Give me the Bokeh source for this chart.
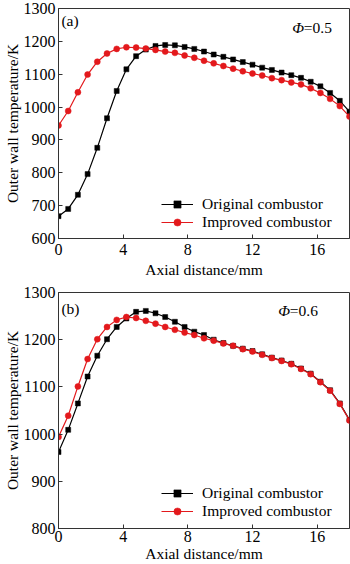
from bokeh.plotting import figure
from bokeh.layouts import column
from bokeh.models import Range1d, FixedTicker, Legend, LegendItem, Label
from bokeh.embed import file_html
from bokeh.resources import INLINE

# Axial distance (mm)
x_mm = [round(0.6 * i, 1) for i in range(31)]

# Panel (a), Phi = 0.5
a_original = [668, 690, 733, 796, 876, 966, 1049, 1115, 1155, 1175,
              1186, 1189, 1188, 1183, 1177, 1169, 1160, 1153, 1145, 1137,
              1129, 1120, 1113, 1105, 1097, 1089, 1077, 1063, 1043, 1019, 986]
a_improved = [944, 988, 1045, 1099, 1138, 1163, 1177, 1182, 1181, 1178,
              1174, 1169, 1165, 1157, 1150, 1141, 1133, 1125, 1117, 1109,
              1102, 1096, 1088, 1082, 1075, 1069, 1057, 1043, 1025, 1003, 971]

# Panel (b), Phi = 0.6
b_original = [962, 1009, 1065, 1122, 1166, 1201, 1227, 1245, 1259, 1261,
              1256, 1248, 1238, 1227, 1217, 1210, 1200, 1193, 1187, 1181,
              1176, 1169, 1162, 1156, 1149, 1139, 1128, 1111, 1093, 1065, 1030]
b_improved = [994, 1039, 1101, 1159, 1201, 1227, 1242, 1248, 1246, 1240,
              1234, 1227, 1221, 1215, 1210, 1203, 1198, 1192, 1187, 1180,
              1175, 1168, 1161, 1155, 1148, 1138, 1127, 1110, 1092, 1064, 1029]

x_ticks = [0, 4, 8, 12, 16]
a_yticks = [600, 700, 800, 900, 1000, 1100, 1200, 1300]
b_yticks = [800, 900, 1000, 1100, 1200, 1300]

series_names = ["Original combustor", "Improved combustor"]
x_title = "Axial distance/mm"
y_title = "Outer wall temperature/K"

FONT = "Liberation Serif"
BLACK = "#000000"
RED = "#e3191c"


def panel(height, yr, yticks, orig, impr, tag, phi_txt, border_top, border_bottom,
          legend_y, tag_xy, phi_xy, lab_standoff, title_standoff):
    p = figure(width=350, height=height, x_range=Range1d(0, 18), y_range=Range1d(*yr),
               output_backend="svg", toolbar_location=None,
               min_border_left=57, min_border_right=1,
               min_border_top=border_top, min_border_bottom=border_bottom)
    p.xgrid.visible = False
    p.ygrid.visible = False
    p.outline_line_color = "#333333"
    p.outline_line_width = 1
    p.background_fill_color = "white"
    p.border_fill_color = "white"

    for ax in (p.xaxis[0], p.yaxis[0]):
        ax.major_tick_in = 4
        ax.major_tick_out = 0
        ax.minor_tick_line_color = None
        ax.axis_line_color = "#333333"
        ax.major_tick_line_color = "#333333"
        ax.major_label_text_font = FONT
        ax.major_label_text_font_size = "16px"
        ax.major_label_text_color = BLACK
        ax.axis_label_text_font = FONT
        ax.axis_label_text_font_size = "15.5px"
        ax.axis_label_text_font_style = "normal"
        ax.axis_label_text_color = BLACK
    p.xaxis.ticker = FixedTicker(ticks=x_ticks)
    p.yaxis.ticker = FixedTicker(ticks=yticks)
    p.xaxis.axis_label = x_title
    p.yaxis.axis_label = y_title
    p.xaxis.major_label_standoff = lab_standoff
    p.xaxis.axis_label_standoff = title_standoff
    p.yaxis.major_label_standoff = 3
    p.yaxis.axis_label_standoff = 0

    l1 = p.line(x_mm, orig, line_color=BLACK, line_width=1.2)
    s1 = p.scatter(x_mm, orig, marker="square", size=5, fill_color=BLACK, line_color=BLACK,
                   line_width=0.5)
    l2 = p.line(x_mm, impr, line_color=RED, line_width=1.2)
    s2 = p.scatter(x_mm, impr, marker="circle", size=6, fill_color=RED, line_color=RED,
                   line_width=0.5)

    legend = Legend(items=[LegendItem(label=series_names[0], renderers=[l1, s1]),
                           LegendItem(label=series_names[1], renderers=[l2, s2])],
                    location=(103, legend_y), border_line_color=None,
                    background_fill_alpha=0, padding=0, margin=0, spacing=0,
                    label_height=18, glyph_height=18, glyph_width=32, label_standoff=9,
                    label_text_font=FONT, label_text_font_size="15.5px",
                    label_text_color=BLACK)
    p.add_layout(legend)

    p.add_layout(Label(x=tag_xy[0], y=tag_xy[1], text=tag, text_font=FONT,
                       text_font_size="15.5px", text_baseline="middle", text_color=BLACK))
    p.add_layout(Label(x=phi_xy[0], y=phi_xy[1], text="Φ", text_font=FONT,
                       text_font_size="15.5px", text_font_style="italic",
                       text_baseline="middle", text_color=BLACK))
    p.add_layout(Label(x=phi_xy[0], y=phi_xy[1], x_offset=11.5, text=phi_txt, text_font=FONT,
                       text_font_size="15.5px", text_baseline="middle", text_color=BLACK))
    return p


p1 = panel(282, (600, 1300), a_yticks, a_original, a_improved, "(a)", "=0.5",
           8, 44, 7, (0.18, 1264), (14.46, 1243), 5, 3)
p2 = panel(282, (800, 1300), b_yticks, b_original, b_improved, "(b)", "=0.6",
           10, 36, 8, (0.18, 1267), (13.6, 1261), 2, 0)

p2.add_layout(Label(x=11.1, y=745, text="@有色金属在线", text_font="Noto Sans CJK SC",
                    text_font_size="14px", text_baseline="middle",
                    text_color="#e08080", text_alpha=0.6))

layout = column(p1, p2, spacing=0)
open("out.html", "w").write(file_html(layout, INLINE))
